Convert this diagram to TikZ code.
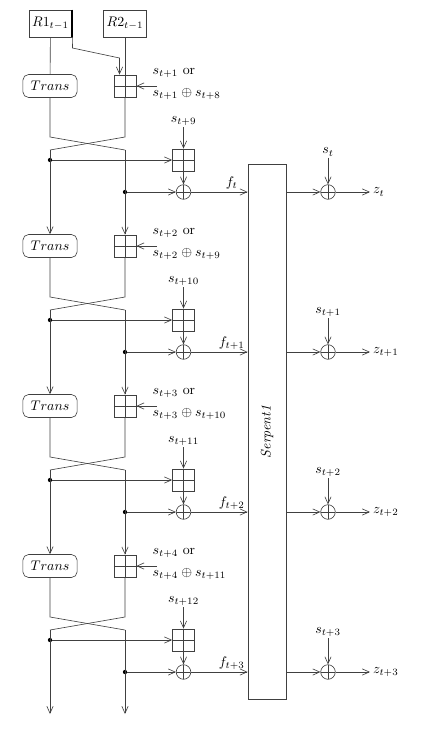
\documentclass[tikz,border=0pt]{standalone}
\usetikzlibrary{arrows.meta}
\tikzset{
  arr/.style={-{Straight Barb[length=5pt,width=4.5pt]}},
  regbox/.style={draw, minimum width=31pt, minimum height=19.5pt, inner sep=1pt},
  transbox/.style={draw, rounded corners=4pt, minimum width=39pt, minimum height=16.5pt, inner sep=1pt},
  addbox/.style={draw, minimum size=16pt, inner sep=0pt,
    path picture={\draw (path picture bounding box.north) -- (path picture bounding box.south)
      (path picture bounding box.west) -- (path picture bounding box.east);}},
  xorc/.style={draw, circle, minimum size=10.5pt, inner sep=0pt,
    path picture={\draw (path picture bounding box.north) -- (path picture bounding box.south)
      (path picture bounding box.west) -- (path picture bounding box.east);}},
  dot/.style={fill, circle, inner sep=1.1pt},
  lbl/.style={inner sep=1pt}
}
\begin{document}
\begin{tikzpicture}[x=0.72pt, y=-0.72pt, draw=black!75, text=black, line width=0.45pt]
\useasboundingbox (0,0) rectangle (422,733);

\node[regbox] (R1) at (50.5,23.5) {$R1_{t-1}$};
\node[regbox] (R2) at (125,23.5) {$R2_{t-1}$};
\draw[line width=1.6pt, black] (R1.north east) -- (R1.south east);

\node[draw, minimum width=27.5pt, minimum height=385pt] (S) at (267,432) {};
\node[rotate=90] (Slbl) at (S.center) {\textit{Serpent1}};

\foreach \k/\a/\b/\c/\d in {0/{t+1}/{t+8}/{t+9}/t, 1/{t+2}/{t+9}/{t+10}/{t+1},
                            2/{t+3}/{t+10}/{t+11}/{t+2}, 3/{t+4}/{t+11}/{t+12}/{t+3}} {
  \pgfmathsetmacro\off{160*\k}
  \node[transbox] (T\k) at (50,86+\off) {$Trans$};
  \node[addbox] (A\k) at (125,86+\off) {};
  % feedback word
  \node[lbl, anchor=west] (fa\k) at (151,73+\off) {$s_{\a}$ or};
  \node[lbl, anchor=west] (fb\k) at (151,94+\off) {$s_{\a}\oplus s_{\b}$};
  \coordinate (fin\k) at (157,86+\off);
  \draw[arr] (fin\k) -- (A\k.east);
  % cross over
  \coordinate (cl\k) at (50,137+\off);
  \coordinate (cr\k) at (125,137+\off);
  \coordinate (xl\k) at (50,150+\off);
  \coordinate (xr\k) at (125,150+\off);
  \draw (T\k.south) -- (cl\k) -- (xr\k);
  \draw (A\k.south) -- (cr\k) -- (xl\k);
  % f_t
  \node[dot, fill=black] (dl\k) at (50,160+\off) {};
  \node[dot, fill=black] (dr\k) at (125,192+\off) {};
  \node[addbox] (B\k) at (183.5,160+\off) {};
  \node[lbl] (sb\k) at (183.5,121+\off) {$s_{\c}$};
  \node[xorc] (X\k) at (183.5,192+\off) {};
  \draw[arr] (sb\k) -- (B\k.north);
  \draw[arr] (dl\k) -- (B\k.west);
  \draw[arr] (B\k.south) -- (X\k.north);
  \draw[arr] (dr\k) -- (X\k.west);
  \draw[arr] (X\k.east) -- node[pos=0.72, above, inner sep=1.5pt] {$f_{\d}$} (S.west |- X\k);
  % output
  \node[xorc] (O\k) at (328,192+\off) {};
  \node[lbl] (so\k) at (328,152+\off) {$s_{\d}$};
  \coordinate (zo\k) at (370,192+\off);
  \draw[arr] (so\k) -- (O\k.north);
  \draw[arr] (S.east |- O\k) -- (O\k.west);
  \draw[arr] (O\k.east) -- (zo\k) node[right, inner sep=2pt] {$z_{\d}$};
}

\draw (R1) -- (T0);
\draw (R2) -- (A0);
\coordinate (bend) at (72.5,48);
\coordinate (feed) at (119.5,58);
\draw[arr] (R1.south east) -- (bend) -- (feed) -- (feed |- A0.north);

\foreach \k/\n in {0/1, 1/2, 2/3} {
  \draw[arr] (xl\k) -- (T\n);
  \draw[arr] (xr\k) -- (A\n);
}
\coordinate (endl) at (50,714);
\coordinate (endr) at (125,714);
\draw[arr] (xl3) -- (endl);
\draw[arr] (xr3) -- (endr);
\end{tikzpicture}
\end{document}
